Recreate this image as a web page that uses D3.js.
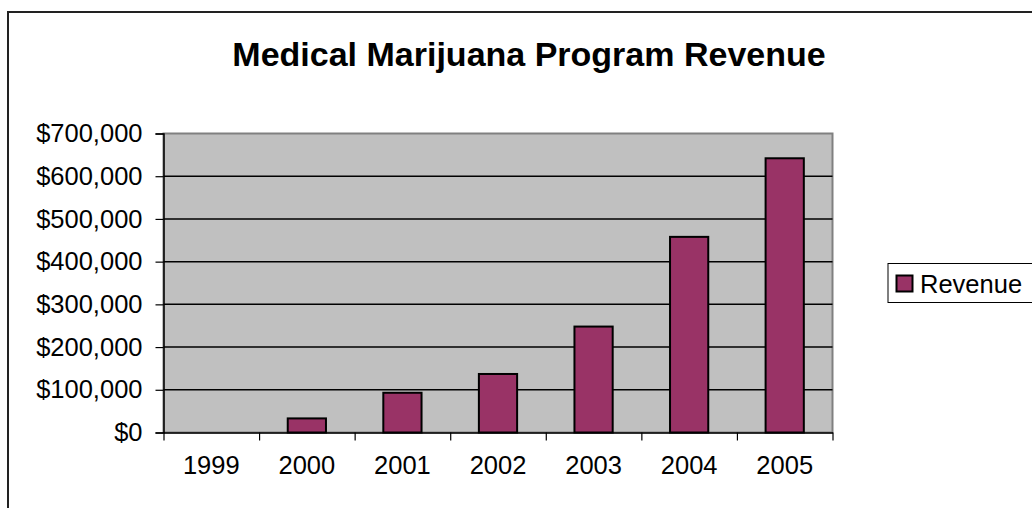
<!DOCTYPE html>
<html>
<head>
<meta charset="utf-8">
<script src="https://cdn.jsdelivr.net/npm/d3@7"></script>
<style>
  html, body { margin: 0; padding: 0; background: #fff; }
  svg { display: block; }
  text { font-family: "Liberation Sans", Arial, sans-serif; fill: #000; }
</style>
</head>
<body>
<svg id="chart" width="1032" height="508"></svg>
<script>
// Program revenue by year
const years = ["1999", "2000", "2001", "2002", "2003", "2004", "2005"];
const revenue = [0, 33000, 93000, 137000, 248000, 458000, 642000];
const yTicks = [0, 100000, 200000, 300000, 400000, 500000, 600000, 700000];
const seriesName = "Revenue";
const titleText = "Medical Marijuana Program Revenue";

const svg = d3.select("#chart");
const W = 1032, H = 508;
const plot = { left: 163.5, right: 832.5, top: 133.5, bottom: 432.5 };
const labelSize = 25.5;

// Outer chart frame (only top and left edges fall inside the view)
svg.append("rect")
  .attr("x", 8).attr("y", 12)
  .attr("width", W + 40).attr("height", H + 40)
  .attr("fill", "#fff")
  .attr("stroke", "#222").attr("stroke-width", 2);

// Title
svg.append("text")
  .attr("x", 529).attr("y", 66)
  .attr("text-anchor", "middle")
  .attr("font-size", 34).attr("font-weight", "bold")
  .text(titleText);

const x = d3.scaleBand()
  .domain(years)
  .range([plot.left, plot.right])
  .paddingInner(0.6)
  .paddingOuter(0.3);

const xEdge = d3.scaleLinear()
  .domain([0, years.length])
  .range([plot.left, plot.right]);

const y = d3.scaleLinear()
  .domain([0, 700000])
  .range([plot.bottom, plot.top]);

// Plot background
svg.append("rect")
  .attr("x", plot.left).attr("y", plot.top)
  .attr("width", plot.right - plot.left).attr("height", plot.bottom - plot.top)
  .attr("fill", "#c0c0c0")
  .attr("stroke", "#808080").attr("stroke-width", 2);

// Horizontal gridlines
svg.append("g")
  .selectAll("line")
  .data(yTicks.filter(v => v > 0 && v < 700000))
  .join("line")
  .attr("x1", plot.left).attr("x2", plot.right)
  .attr("y1", d => y(d)).attr("y2", d => y(d))
  .attr("stroke", "#000").attr("stroke-width", 1.5);

// Bars
svg.append("g")
  .selectAll("rect")
  .data(years.map((yr, i) => ({ yr, v: revenue[i] })).filter(d => d.v > 0))
  .join("rect")
  .attr("x", d => x(d.yr))
  .attr("y", d => y(d.v))
  .attr("width", x.bandwidth())
  .attr("height", d => y(0) - y(d.v))
  .attr("fill", "#993366")
  .attr("stroke", "#000").attr("stroke-width", 2);

// Y axis
const yAxis = svg.append("g")
  .attr("transform", `translate(${plot.left},0)`)
  .call(d3.axisLeft(y)
    .tickValues(yTicks)
    .tickFormat(d3.format("$,"))
    .tickSize(8)
    .tickPadding(13));
yAxis.select(".domain").attr("stroke", "#000").attr("stroke-width", 1.5);
yAxis.selectAll(".tick line").attr("stroke", "#000").attr("stroke-width", 1.2);
yAxis.selectAll("text")
  .attr("font-size", labelSize)
  .attr("font-family", "Liberation Sans, Arial, sans-serif")
  .attr("fill", "#000");

// X axis: category boundary ticks
const xTickAxis = svg.append("g")
  .attr("transform", `translate(0,${plot.bottom})`)
  .call(d3.axisBottom(xEdge)
    .tickValues(d3.range(years.length + 1))
    .tickFormat("")
    .tickSize(8)
    .tickSizeOuter(0));
xTickAxis.select(".domain").attr("stroke", "#000").attr("stroke-width", 1.5);
xTickAxis.selectAll(".tick line").attr("stroke", "#000").attr("stroke-width", 1.2);

// X axis: category labels
const xLabelAxis = svg.append("g")
  .attr("transform", `translate(0,${plot.bottom})`)
  .call(d3.axisBottom(x).tickSize(0).tickPadding(23));
xLabelAxis.select(".domain").remove();
xLabelAxis.selectAll("text")
  .attr("font-size", labelSize)
  .attr("font-family", "Liberation Sans, Arial, sans-serif")
  .attr("fill", "#000");

// Legend
const legend = svg.append("g");
legend.append("rect")
  .attr("x", 888).attr("y", 263.5)
  .attr("width", 160).attr("height", 39)
  .attr("fill", "#fff")
  .attr("stroke", "#000").attr("stroke-width", 1);
legend.append("rect")
  .attr("x", 896.5).attr("y", 275.5)
  .attr("width", 16).attr("height", 16)
  .attr("fill", "#993366")
  .attr("stroke", "#000").attr("stroke-width", 2);
legend.append("text")
  .attr("x", 920).attr("y", 292.5)
  .attr("font-size", labelSize)
  .text(seriesName);
</script>
</body>
</html>
